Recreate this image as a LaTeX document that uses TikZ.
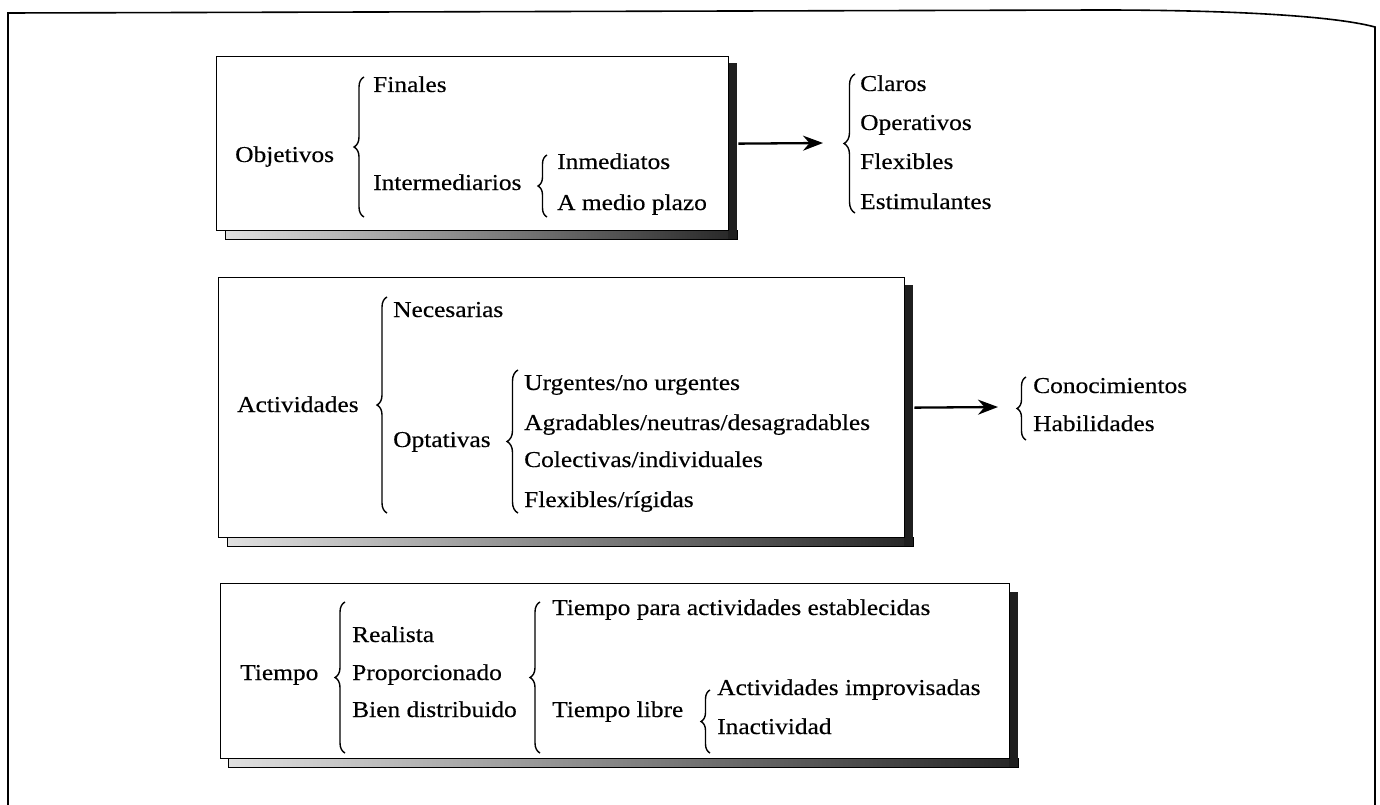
\documentclass[tikz,border=0pt]{standalone}
\usepackage{fontspec}
\setmainfont{Liberation Serif}[FakeStretch=1.12,FakeBold=0.35]
\usetikzlibrary{decorations.pathreplacing,arrows.meta}
\begin{document}
\begin{tikzpicture}[x=1pt,y=-1pt,
  txt/.style={anchor=base west, inner sep=0pt, font=\fontsize{22.7}{27}\selectfont},
  boxline/.style={draw, line width=1.3pt, fill=white, anchor=north west, inner sep=0pt},
  brc/.style={decorate, decoration={brace, amplitude=#1}, line width=1.4pt},
  brc/.default=10pt,
  arr/.style={-{Stealth[length=20pt,width=15pt]}, line width=2.3pt},
  shadowband/.style={draw, line width=0.6pt, left color=black!12, right color=black!85},
  shadowside/.style={fill=black!88}]
\useasboundingbox (0,0) rectangle (1380,805);
% outer frame
\draw[line width=1.6pt] (8,805) -- (8,13) -- (1100,10) .. controls (1220,10) and (1330,15) .. (1375,27) -- (1375,805);

% ---------- box 1 ----------
\shade[shadowband] (225,230) rectangle (737,239);
\fill[shadowside] (728,63) rectangle (737,239);
\node[boxline, minimum width=512pt, minimum height=174pt] (b1) at (216,56) {};
\node[txt] (obj) at (235,162) {Objetivos};
\node[txt] (fin) at (373,92) {Finales};
\node[txt] (int) at (373,190) {Intermediarios};
\node[txt] (inm) at (557,169) {Inmediatos};
\node[txt] (amp) at (557,210) {A medio plazo};
\draw[brc=10pt] (364,217) -- (364,77);
\draw[brc=9pt] (547,217) -- (547,155);
\coordinate (a1end) at (823,143);
\draw[arr] ([xshift=9pt]b1.east) -- (a1end);
\draw[brc=11pt] (855,213) -- (855,74);
\node[txt] (cla) at (860,91) {Claros};
\node[txt] (ope) at (860,130) {Operativos};
\node[txt] (fle) at (860,169) {Flexibles};
\node[txt] (est) at (860,209) {Estimulantes};

% ---------- box 2 ----------
\shade[shadowband] (227,537) rectangle (913,546);
\fill[shadowside] (904,285) rectangle (913,546);
\node[boxline, minimum width=686pt, minimum height=260pt] (b2) at (218,277) {};
\node[txt] (act) at (237,412) {Actividades};
\node[txt] (nec) at (393,317) {Necesarias};
\node[txt] (opt) at (393,447) {Optativas};
\node[txt] (urg) at (524,390) {Urgentes/no urgentes};
\node[txt] (agr) at (524,430) {Agradables/neutras/desagradables};
\node[txt] (col) at (524,467) {Colectivas/individuales};
\node[txt] (flr) at (524,507) {Flexibles/rígidas};
\draw[brc=10pt] (387,513) -- (387,297);
\draw[brc=11pt] (518,513) -- (518,370);
\coordinate (a2end) at (998,407);
\draw[arr] ([xshift=9pt]b2.east) -- (a2end);
\draw[brc=9pt] (1026,440) -- (1026,377);
\node[txt] (con) at (1033,393) {Conocimientos};
\node[txt] (hab) at (1033,431) {Habilidades};

% ---------- box 3 ----------
\shade[shadowband] (228,758) rectangle (1018,767);
\fill[shadowside] (1009,592) rectangle (1018,767);
\node[boxline, minimum width=789pt, minimum height=175pt] (b3) at (220,583) {};
\node[txt] (tie) at (240,680) {Tiempo};
\node[txt] (rea) at (352,642) {Realista};
\node[txt] (pro) at (352,680) {Proporcionado};
\node[txt] (bie) at (352,717) {Bien distribuido};
\node[txt] (tpa) at (552,615) {Tiempo para actividades establecidas};
\node[txt] (tli) at (552,717) {Tiempo libre};
\node[txt] (aim) at (717,695) {Actividades improvisadas};
\node[txt] (ina) at (717,734) {Inactividad};
\draw[brc=10pt] (345,753) -- (345,602);
\draw[brc=10pt] (540,753) -- (540,602);
\draw[brc=9pt] (710,753) -- (710,690);
\end{tikzpicture}
\end{document}
